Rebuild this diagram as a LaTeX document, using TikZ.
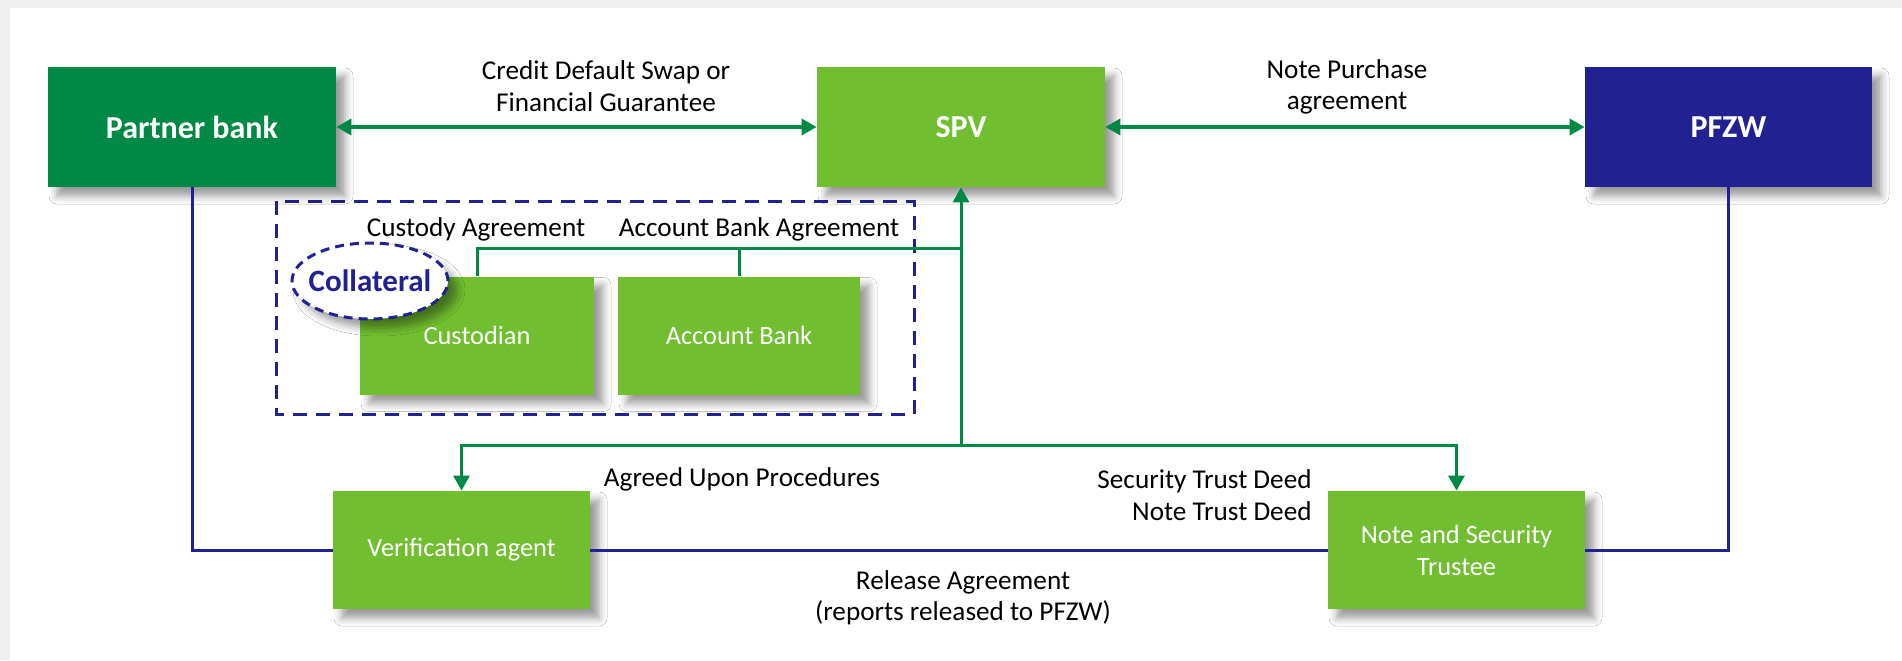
\documentclass[tikz,border=0pt]{standalone}
\usepackage{fontspec}
\setmainfont{Carlito}
\usetikzlibrary{arrows.meta,shapes.geometric,shadows.blur}
\definecolor{dkgreen}{RGB}{0,136,69}
\definecolor{ltgreen}{RGB}{113,190,48}
\definecolor{navy}{RGB}{33,33,146}
\definecolor{bggray}{RGB}{239,239,239}
\tikzset{
  shd/.style={blur shadow={shadow xshift=4.5pt,shadow yshift=-4.5pt,shadow blur radius=4pt,shadow opacity=40}},
  bigbox/.style={rectangle,shd,minimum width=144pt,minimum height=60pt,inner sep=0pt,text=white,font=\fontsize{16}{19}\selectfont\bfseries},
  smallbox/.style={rectangle,shd,fill=ltgreen,minimum height=59pt,inner sep=0pt,text=white,align=center,font=\fontsize{13.2}{16}\selectfont},
  lbl/.style={font=\fontsize{13.6}{15.7}\selectfont,inner sep=0pt,align=center},
  garrow/.style={draw=dkgreen,line width=1.7pt,arrows={Triangle[length=7.5pt,width=8pt]-Triangle[length=7.5pt,width=8pt]}},
  gline/.style={draw=dkgreen,line width=1.5pt},
  gtip/.style={gline,-{Triangle[length=7.5pt,width=8pt]}},
  nline/.style={draw=navy,line width=1.5pt},
}
\begin{document}
\begin{tikzpicture}[x=0.5pt,y=-0.5pt]
\fill[bggray] (0,0) rectangle (1902,660);
\fill[white] (10,8) rectangle (1902,660);
\useasboundingbox (0,0) rectangle (1902,660);
% dashed group
\draw[navy,line width=1.5pt,dash pattern=on 7pt off 4.5pt] (276,201) rectangle (914,414);
% main boxes
\node[bigbox,fill=dkgreen] (pb) at (192,127) {Partner bank};
\node[bigbox,fill=ltgreen] (spv) at (961,127) {SPV};
\node[bigbox,fill=navy,minimum width=143.5pt] (pfzw) at (1728.5,127) {PFZW};
\node[smallbox,minimum width=117pt] (cust) at (477,335.5) {Custodian};
\node[smallbox,minimum width=121pt] (acct) at (739,335.5) {Account Bank};
\node[smallbox,minimum width=128.5pt] (va) at (461.5,550) {Verification agent};
\node[smallbox,minimum width=128.5pt] (nst) at (1456.5,550) {Note and Security\\Trustee};
\node[ellipse,shd,fill=white,draw=navy,line width=1.5pt,dash pattern=on 4.5pt off 3pt,minimum width=78pt,minimum height=38pt,inner xsep=-4pt,inner ysep=0pt,text=navy,font=\fontsize{15.5}{19}\selectfont\bfseries] (coll) at (370,281) {Collateral};
% labels
\node[lbl] (l1) at (606,86) {Credit Default Swap or\\Financial Guarantee};
\node[lbl] (l2) at (1347,87) {Note Purchase\\agreement};
\node[lbl] (l3) at (476,229) {Custody Agreement};
\node[lbl] (l4) at (759,229) {Account Bank Agreement};
\node[lbl] (l5) at (742,479) {Agreed Upon Procedures};
\node[lbl,align=right,anchor=east] (l6) at (1312,495) {Security Trust Deed\\Note Trust Deed};
\node[lbl] (l7) at (963,598) {Release Agreement\\(reports released to PFZW)};
% connectors
\coordinate (j1) at (961,248);
\coordinate (j2) at (961,445);
\draw[garrow] (pb) -- (spv);
\draw[garrow] (spv) -- (pfzw);
\draw[gline] (cust.north) |- (j1);
\draw[gline] (acct.north) -- (acct.north |- j1);
\draw[gtip] (j2) -- (spv.south);
\draw[gtip] (j2) -| (va.north);
\draw[gtip] (j2) -| (nst.north);
\draw[nline] (pb.south) |- (va.west);
\draw[nline] (va.east) -- (nst.west);
\draw[nline] (nst.east) -| (pfzw.south);
\end{tikzpicture}
\end{document}
